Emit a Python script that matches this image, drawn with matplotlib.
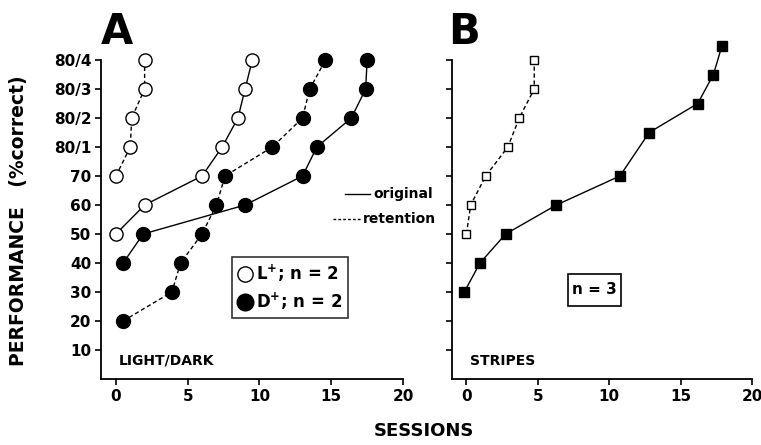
import matplotlib
matplotlib.use('Agg')
import matplotlib.pyplot as plt
from matplotlib.lines import Line2D
from matplotlib.patches import Rectangle

# performance levels: 10..70 then 80% criterion sessions 1-4
level_labels = ['10', '20', '30', '40', '50', '60', '70', '80/1', '80/2', '80/3', '80/4']
levels = list(range(1, 12))

# panel A, light/dark
lplus_orig_x = [0, 2, 6, 7.4, 8.5, 9, 9.5]
lplus_orig_y = [5, 6, 7, 8, 9, 10, 11]
lplus_ret_x = [0, 1, 1.1, 2, 2]
lplus_ret_y = [7, 8, 9, 10, 11]
dplus_orig_x = [0.5, 1.9, 9, 13, 14, 16.4, 17.4, 17.5]
dplus_orig_y = [4, 5, 6, 7, 8, 9, 10, 11]
dplus_ret_x = [0.5, 3.9, 4.5, 6, 7, 7.6, 10.9, 13, 13.5, 14.6]
dplus_ret_y = [2, 3, 4, 5, 6, 7, 8, 9, 10, 11]

# panel B, stripes
stripes_orig_x = [-0.15, 0.95, 2.75, 6.3, 10.75, 12.8, 16.2, 17.3, 17.9]
stripes_orig_y = [3, 4, 5, 6, 7, 8.5, 9.5, 10.5, 11.5]
stripes_ret_x = [0, 0.3, 1.35, 2.9, 3.7, 4.75, 4.75]
stripes_ret_y = [5, 6, 7, 8, 9, 10, 11]

W, H = 761, 445
plt.rcParams['font.family'] = 'DejaVu Sans'
plt.rcParams['font.weight'] = 'bold'

fig = plt.figure(figsize=(W / 100, H / 100), dpi=100)


def fx(px):
	return px / W


def fy(py):
	return 1 - py / H


def setup(ax, labels):
	ax.set_xlim(-1.04, 20)
	ax.set_ylim(0, 11)
	for s in ['top', 'right']:
		ax.spines[s].set_visible(False)
	for s in ['left', 'bottom']:
		ax.spines[s].set_linewidth(1.3)
	ax.set_xticks([0, 5, 10, 15, 20])
	ax.set_yticks(levels)
	if labels:
		ax.set_yticklabels(level_labels)
	else:
		ax.set_yticklabels([])
	ax.tick_params(direction='out', length=4, width=1.2, labelsize=11, pad=3)
	for t in ax.get_xticklabels() + ax.get_yticklabels():
		t.set_fontweight('bold')


axA = fig.add_axes([fx(101), fy(379), fx(403) - fx(101), (379 - 60) / H])
axB = fig.add_axes([fx(452), fy(379), fx(752) - fx(452), (379 - 60) / H])
setup(axA, True)
setup(axB, False)
axB.set_xlim(-1.01, 20)

ms = 9.5
axA.plot(lplus_orig_x, lplus_orig_y, '-', color='black', lw=1.0,
	marker='o', ms=ms, mfc='white', mec='black', mew=1.0, clip_on=False, zorder=3)
axA.plot(lplus_ret_x, lplus_ret_y, '--', color='black', lw=1.0, dashes=(3, 2),
	marker='o', ms=ms, mfc='white', mec='black', mew=1.0, clip_on=False, zorder=3)
axA.plot(dplus_orig_x, dplus_orig_y, '-', color='black', lw=1.0,
	marker='o', ms=ms + 0.5, mfc='black', mec='black', clip_on=False, zorder=3)
axA.plot(dplus_ret_x, dplus_ret_y, '--', color='black', lw=1.0, dashes=(3, 2),
	marker='o', ms=ms + 0.5, mfc='black', mec='black', clip_on=False, zorder=3)

axB.plot(stripes_orig_x, stripes_orig_y, '-', color='black', lw=1.0,
	marker='s', ms=6.5, mfc='black', mec='black', clip_on=False, zorder=3)
axB.plot(stripes_ret_x, stripes_ret_y, '--', color='black', lw=1.0, dashes=(3, 2),
	marker='s', ms=5.5, mfc='white', mec='black', mew=1.0, clip_on=False, zorder=3)

# legend box in panel A
handles = [
	Line2D([], [], ls='none', marker='o', ms=11, mfc='white', mec='black', mew=1.0),
	Line2D([], [], ls='none', marker='o', ms=12, mfc='black', mec='black'),
]
leg = axA.legend(handles, ['L$^{\\mathbf{+}}$; n = 2', 'D$^{\\mathbf{+}}$; n = 2'],
	loc='upper left', bbox_to_anchor=((232 - 101) / 302, (379 - 257) / 319),
	frameon=True, fancybox=False, edgecolor='black', handlelength=0.8,
	handletextpad=0.3, borderpad=0.35, labelspacing=0.4, borderaxespad=0,
	prop={'size': 12, 'weight': 'bold'})
leg.get_frame().set_linewidth(1.2)

axA.text(0.06, 0.035, 'LIGHT/DARK', transform=axA.transAxes, fontsize=10,
	fontweight='bold', ha='left', va='bottom')
axB.text(0.06, 0.035, 'STRIPES', transform=axB.transAxes, fontsize=10,
	fontweight='bold', ha='left', va='bottom')

# n = 3 box
fig.patches.append(Rectangle((fx(568), fy(306)), fx(621) - fx(568), (306 - 274) / H,
	transform=fig.transFigure, fill=False, ec='black', lw=1.2))
fig.text(fx(594.5), fy(290), 'n = 3', fontsize=11, fontweight='bold', ha='center', va='center')

# line style key
fig.add_artist(Line2D([fx(345), fx(370)], [fy(194), fy(194)], color='black', lw=1.0,
	transform=fig.transFigure))
fig.text(fx(373), fy(194), 'original', fontsize=10, fontweight='bold', ha='left', va='center')
fig.add_artist(Line2D([fx(333), fx(361)], [fy(219), fy(219)], color='black', lw=1.0,
	ls='--', dashes=(2, 1.5), transform=fig.transFigure))
fig.text(fx(363), fy(219), 'retention', fontsize=10, fontweight='bold', ha='left', va='center')

# panel letters and axis titles
fig.text(fx(101), fy(44), 'A', fontsize=30, fontweight='heavy', ha='left', va='baseline')
fig.text(fx(448), fy(44), 'B', fontsize=30, fontweight='heavy', ha='left', va='baseline')
fig.text(fx(19), fy(221), 'PERFORMANCE   (%correct)', fontsize=13.5, fontweight='bold',
	rotation=90, ha='center', va='center')
fig.text(fx(424), fy(431), 'SESSIONS', fontsize=13, fontweight='bold', ha='center', va='center')

fig.savefig('out.png', dpi=100, facecolor='white')
plt.close(fig)
